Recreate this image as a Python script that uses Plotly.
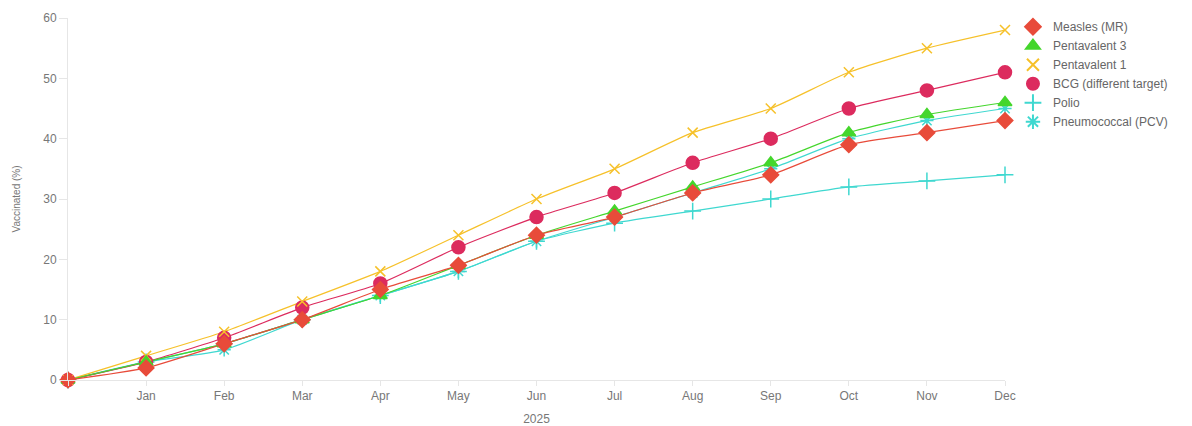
import plotly.graph_objects as go

x_idx = list(range(13))
tick_labels = ["", "Jan", "Feb", "Mar", "Apr", "May", "Jun", "Jul", "Aug", "Sep", "Oct", "Nov", "Dec"]

measles = [0, 2, 6, 10, 15, 19, 24, 27, 31, 34, 39, 41, 43]
penta3 = [0, 3, 6, 10, 14, 19, 24, 28, 32, 36, 41, 44, 46]
penta1 = [0, 4, 8, 13, 18, 24, 30, 35, 41, 45, 51, 55, 58]
bcg = [0, 3, 7, 12, 16, 22, 27, 31, 36, 40, 45, 48, 51]
polio = [0, 3, 6, 10, 14, 18, 23, 26, 28, 30, 32, 33, 34]
pcv = [0, 3, 5, 10, 14, 18, 23, 27, 31, 35, 40, 43, 45]

series = [
    ("Measles (MR)", measles, "#E84B3A", "diamond", 12),
    ("Pentavalent 3", penta3, "#44D62C", "triangle-up", 12),
    ("Pentavalent 1", penta1, "#F6C12A", "x-thin", 10),
    ("BCG (different target)", bcg, "#DC2B5E", "circle", 13),
    ("Polio", polio, "#3FD8D0", "cross-thin", 12),
    ("Pneumococcal (PCV)", pcv, "#3FD8D0", "asterisk", 11),
]

fig = go.Figure()
# draw in reverse so the first series ends up on top; legend reversed to keep order
for name, vals, color, sym, size in reversed(series):
    fig.add_trace(go.Scatter(
        x=x_idx, y=vals, name=name, mode="lines", legendgroup=name,
        line=dict(color=color, width=1.2, shape="spline", smoothing=0.6),
        showlegend=False, hoverinfo="skip",
    ))
for name, vals, color, sym, size in reversed(series):
    fig.add_trace(go.Scatter(
        x=x_idx, y=vals, name=name, mode="markers", legendgroup=name,
        marker=dict(symbol=sym, size=size, color=color,
                    line=dict(color=color, width=1.5)),
        cliponaxis=False,
    ))

fig.update_layout(
    width=1192, height=426,
    margin=dict(l=68, r=187, t=15, b=46),
    paper_bgcolor="white", plot_bgcolor="white",
    font=dict(family="Liberation Sans, Arial, sans-serif", size=12, color="#777777"),
    showlegend=True,
    legend=dict(x=1.0085, y=1.016, xanchor="left", yanchor="top",
                font=dict(size=12, color="#666666"), traceorder="reversed",
                tracegroupgap=0, itemsizing="constant", itemwidth=30,
                bgcolor="rgba(0,0,0,0)"),
)
fig.update_xaxes(
    range=[0, 12], tickmode="array", tickvals=x_idx, ticktext=tick_labels,
    showgrid=False, zeroline=False, showline=True, linecolor="#e6e6e6",
    ticks="outside", ticklen=5, tickcolor="#e6e6e6", automargin=False,
    title=dict(text="2025", font=dict(size=12, color="#777777")),
    tickfont=dict(size=12, color="#777777"),
)
fig.update_yaxes(
    range=[0, 60], dtick=10, showgrid=False, zeroline=False,
    showline=True, linecolor="#e6e6e6", ticks="outside", ticklen=8, tickcolor="#e6e6e6",
    automargin=False,
    title=dict(text="Vaccinated (%)", font=dict(size=10, color="#777777"), standoff=20),
    tickfont=dict(size=12, color="#777777"),
)

fig.write_html("out.html")
